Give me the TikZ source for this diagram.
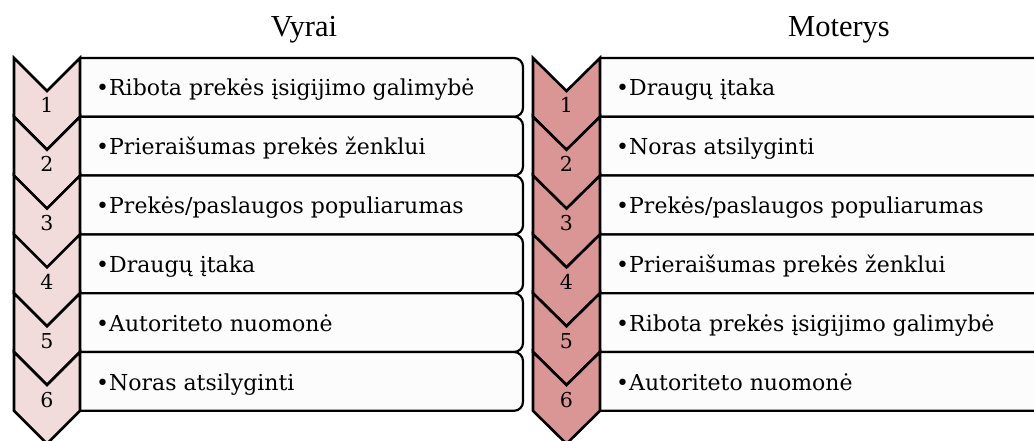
\documentclass[tikz,border=0pt]{standalone}
\usepackage{fontspec}
\setmainfont{Liberation Serif}
\newfontfamily\itemfont{DejaVu Serif}
\definecolor{lightrose}{RGB}{242,220,219}
\definecolor{darkrose}{RGB}{217,150,148}
\definecolor{boxwhite}{RGB}{252,252,252}
\tikzset{
  itembox/.style={draw=black, line width=2.2pt, fill=boxwhite, rounded corners=9pt},
  chevron/.style={draw=black, line width=2.6pt, line join=miter},
  itemtext/.style={anchor=base west, inner sep=0pt, font=\itemfont\fontsize{22}{22}\selectfont},
  numtext/.style={anchor=base, inner sep=0pt, font=\itemfont\fontsize{20.5}{20.5}\selectfont},
  title/.style={anchor=base, inner sep=0pt, font=\fontsize{30.5}{30.5}\selectfont}
}

\begin{document}
\begin{tikzpicture}[x=1pt,y=-1pt]
        \useasboundingbox (0,0) rectangle (1034,441);
        \clip (0,0) rectangle (1034,441);

        \node[title] (vyrai) at (304,37) {Vyrai};
        \node[title] (moterys) at (839,37) {Moterys};

        % boxes first, the chevrons lie over their left ends
        \foreach \i in {1,...,6}{
            \pgfmathsetmacro\rowtop{58+(\i-1)*58.8}
            \pgfmathsetmacro\rowbot{\rowtop+58.8}
            \filldraw[itembox] (80,\rowtop) -- (523,\rowtop) -- (523,\rowbot) -- (80,\rowbot);
            \filldraw[itembox] (600,\rowtop) -- (1050,\rowtop) -- (1050,\rowbot) -- (600,\rowbot);
        }

        \foreach \i in {1,...,6}{
            \pgfmathsetmacro\rowtop{58+(\i-1)*58.8}
            \pgfmathsetmacro\rowbot{\rowtop+58.8}
            \filldraw[chevron, fill=lightrose] (14,\rowtop) -- (47,\rowtop+33) -- (80,\rowtop)
                -- (80,\rowbot) -- (47,\rowbot+33) -- (14,\rowbot) -- cycle;
            \filldraw[chevron, fill=darkrose] (533,\rowtop) -- (566.5,\rowtop+33) -- (600,\rowtop)
                -- (600,\rowbot) -- (566.5,\rowbot+33) -- (533,\rowbot) -- cycle;
            \node[numtext] (vnum\i) at (47,\rowtop+55) {\i};
            \node[numtext] (mnum\i) at (566.5,\rowtop+55) {\i};
        }

        \foreach \t [count=\i] in {Ribota prekės įsigijimo galimybė, Prieraišumas prekės ženklui,
            Prekės/paslaugos populiarumas, Draugų įtaka, Autoriteto nuomonė, Noras atsilyginti}{
            \node[itemtext] (vyr\i) at (96,58+\i*58.8-58.8+38) {•\t};
        }
        \foreach \t [count=\i] in {Draugų įtaka, Noras atsilyginti, Prekės/paslaugos populiarumas,
            Prieraišumas prekės ženklui, Ribota prekės įsigijimo galimybė, Autoriteto nuomonė}{
            \node[itemtext] (mot\i) at (616,58+\i*58.8-58.8+38) {•\t};
        }
    \end{tikzpicture}
\end{document}
